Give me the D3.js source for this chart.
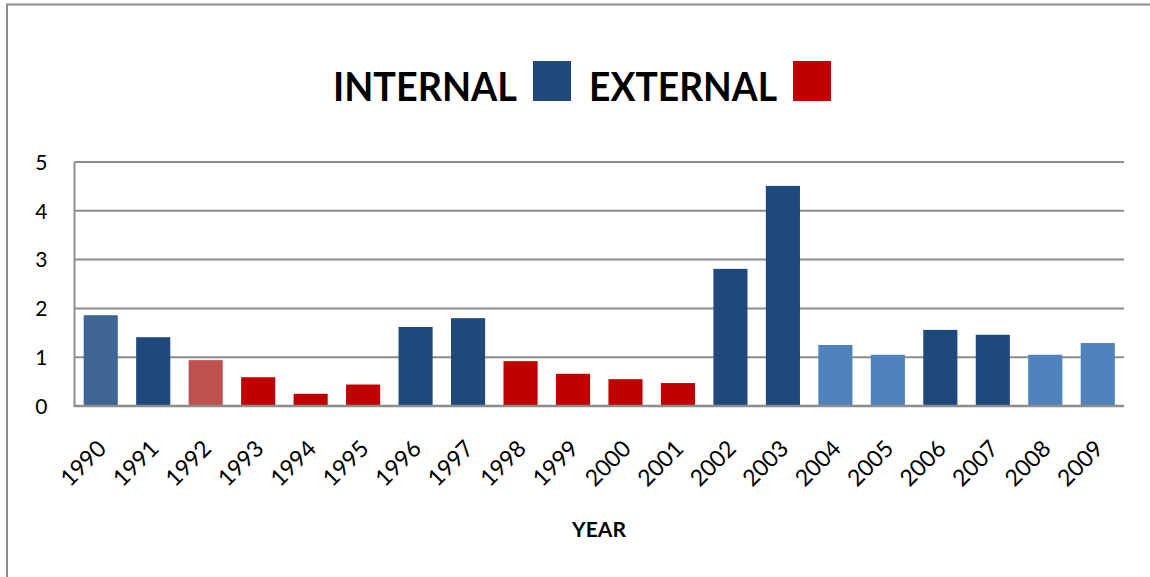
<!DOCTYPE html>
<html>
<head>
<meta charset="utf-8">
<title>Internal / External</title>
<script src="https://d3js.org/d3.v7.min.js"></script>
<style>
    body { margin: 0; background: #fff; }
    svg text { font-family: Lato, "Open Sans", sans-serif; fill: #000; }
</style>
</head>
<body>
<div id="chart"></div>
<script>
    // data
    var years = ["1990", "1991", "1992", "1993", "1994", "1995", "1996", "1997", "1998", "1999",
                 "2000", "2001", "2002", "2003", "2004", "2005", "2006", "2007", "2008", "2009"];
    var values = [1.86, 1.41, 0.94, 0.59, 0.25, 0.44, 1.62, 1.80, 0.92, 0.66,
                  0.55, 0.47, 2.81, 4.51, 1.25, 1.05, 1.56, 1.46, 1.05, 1.29];
    var kinds = ["internalMid", "internal", "externalSoft", "external", "external", "external", "internal", "internal", "external", "external",
                 "external", "external", "internal", "internal", "internalLight", "internalLight", "internal", "internal", "internalLight", "internalLight"];
    var yTicks = [0, 1, 2, 3, 4, 5];
    var legendItems = ["INTERNAL", "EXTERNAL"];

    var colors = {
        internal: "#1f497d",
        internalMid: "#3e6595",
        internalLight: "#4f81bd",
        external: "#c00000",
        externalSoft: "#c0504d"
    };

    var width = 1150, height = 577;
    var plotLeft = 74.5, plotRight = 1124, plotTop = 162, plotBottom = 406;

    var svg = d3.select("#chart").append("svg")
        .attr("width", width)
        .attr("height", height);

    // frame (only left and top edges are in view)
    svg.append("path")
        .attr("d", "M7,577 V4.5 H1150")
        .attr("fill", "none")
        .attr("stroke", "#8c8c8c")
        .attr("stroke-width", 2);

    var x = d3.scaleBand()
        .domain(years)
        .range([plotLeft, plotRight])
        .paddingInner(0.35)
        .paddingOuter(0.175);

    var y = d3.scaleLinear()
        .domain([0, 5])
        .range([plotBottom, plotTop]);

    // gridlines
    svg.append("g")
        .selectAll("line")
        .data(yTicks.filter(function(d) { return d > 0; }))
        .enter().append("line")
        .attr("x1", plotLeft)
        .attr("x2", plotRight)
        .attr("y1", function(d) { return y(d); })
        .attr("y2", function(d) { return y(d); })
        .attr("stroke", "#8c8c8c")
        .attr("stroke-width", 2);

    // y axis labels
    var yAxis = svg.append("g")
        .attr("transform", "translate(" + plotLeft + ",0)")
        .call(d3.axisLeft(y).tickValues(yTicks).tickFormat(d3.format("d")).tickSize(0).tickPadding(27));
    yAxis.select(".domain").remove();
    yAxis.selectAll("text")
        .style("font-size", "21px")
        .attr("dy", "0.35em");

    // bars
    svg.append("g")
        .selectAll("rect")
        .data(years)
        .enter().append("rect")
        .attr("x", function(d) { return x(d); })
        .attr("width", x.bandwidth())
        .attr("y", function(d, i) { return y(values[i]); })
        .attr("height", function(d, i) { return y(0) - y(values[i]); })
        .attr("fill", function(d, i) { return colors[kinds[i]]; });

    // axis lines
    svg.append("line")
        .attr("x1", plotLeft).attr("x2", plotLeft)
        .attr("y1", plotTop).attr("y2", plotBottom)
        .attr("stroke", "#8c8c8c").attr("stroke-width", 2);
    svg.append("line")
        .attr("x1", plotLeft - 1).attr("x2", plotRight)
        .attr("y1", plotBottom).attr("y2", plotBottom)
        .attr("stroke", "#8c8c8c").attr("stroke-width", 2.5);

    // x axis labels
    var xAxis = svg.append("g")
        .attr("transform", "translate(0," + plotBottom + ")")
        .call(d3.axisBottom(x).tickSize(0).tickPadding(0));
    xAxis.select(".domain").remove();
    xAxis.selectAll("text")
        .style("font-size", "23px")
        .attr("text-anchor", "end")
        .attr("dy", "0")
        .attr("transform", "translate(7,44) rotate(-45)");

    svg.append("text")
        .attr("x", 599)
        .attr("y", 537)
        .attr("text-anchor", "middle")
        .style("font-size", "21px")
        .style("font-weight", "bold")
        .text("YEAR");

    // title / legend
    var legendX = [333, 589];
    var swatchX = [533, 793];
    var legendColors = [colors.internal, colors.external];
    var legend = svg.append("g");
    legend.selectAll("text")
        .data(legendItems)
        .enter().append("text")
        .attr("x", function(d, i) { return legendX[i]; })
        .attr("y", 101)
        .attr("textLength", function(d, i) { return i === 0 ? 184 : 188; })
        .attr("lengthAdjust", "spacingAndGlyphs")
        .style("font-size", "41px")
        .style("font-weight", "bold")
        .text(function(d) { return d; });
    legend.selectAll("rect")
        .data(legendItems)
        .enter().append("rect")
        .attr("x", function(d, i) { return swatchX[i]; })
        .attr("y", 61)
        .attr("width", 38)
        .attr("height", 40)
        .attr("fill", function(d, i) { return legendColors[i]; });
</script>
</body>
</html>
